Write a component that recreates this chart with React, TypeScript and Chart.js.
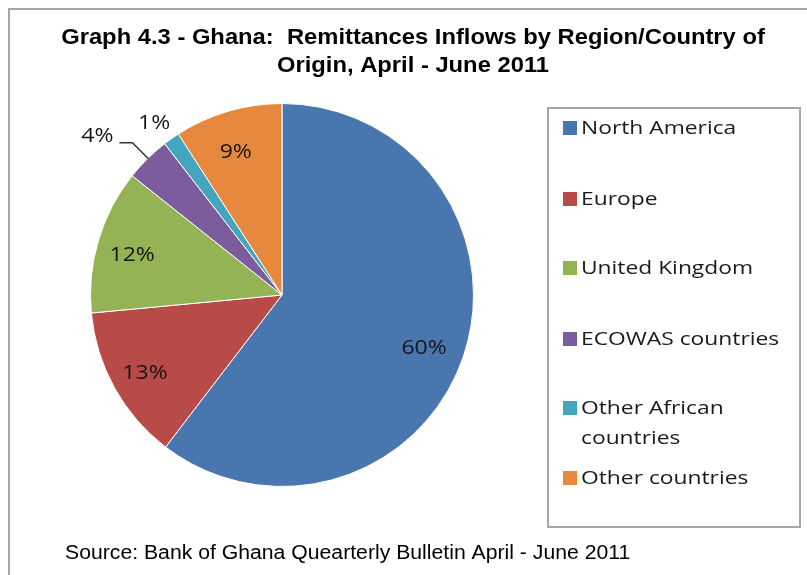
import React, { useEffect, useRef } from "react";
import { Chart, registerables } from "chart.js";

Chart.register(...registerables);

const titleLines = ["Graph 4.3 - Ghana:  Remittances Inflows by Region/Country of", "Origin, April - June 2011"];
const sourceText = "Source: Bank of Ghana Quearterly Bulletin April - June 2011";
const categories = ["North America", "Europe", "United Kingdom", "ECOWAS countries", "Other African countries", "Other countries"];
const legendLines = [["North America"], ["Europe"], ["United Kingdom"], ["ECOWAS countries"], ["Other African", "countries"], ["Other countries"]];
const shares = [60.4, 13.1, 12.2, 3.8, 1.4, 9.1];
const colors = ["#4A76B0", "#B84A48", "#93B354", "#7B5D9D", "#45A5BF", "#E6893F"];

const SX = 1.2; // horizontal stretch of the reference text

function drawText(ctx: CanvasRenderingContext2D, text: string, x: number, y: number, sx: number) {
  ctx.save();
  ctx.translate(x, y);
  ctx.scale(sx, 1);
  ctx.fillText(text, 0, 0);
  ctx.restore();
}

const decorPlugin = {
  id: "decor",
  beforeDraw(chart: any) {
    const ctx: CanvasRenderingContext2D = chart.ctx;
    ctx.save();
    ctx.fillStyle = "#ffffff";
    ctx.fillRect(0, 0, chart.width, chart.height);
    // outer frame
    ctx.strokeStyle = "#a6a6a6";
    ctx.lineWidth = 2;
    ctx.strokeRect(9, 9, 1000, 800);
    // title
    ctx.fillStyle = "#000000";
    ctx.font = "bold 22px 'Liberation Sans', Arial, sans-serif";
    ctx.textAlign = "center";
    ctx.textBaseline = "middle";
    drawText(ctx, titleLines[0], 413, 38, 1.08);
    drawText(ctx, titleLines[1], 413, 66, 1.08);
    // source
    ctx.font = "20px 'Liberation Sans', Arial, sans-serif";
    ctx.textAlign = "left";
    drawText(ctx, sourceText, 65, 553, 1.06);
    // legend box
    ctx.strokeStyle = "#a6a6a6";
    ctx.lineWidth = 2;
    ctx.strokeRect(548, 108, 252, 419);
    const rowY = [128, 199, 268, 339, 408, 478];
    const bg = chart.data.datasets[0].backgroundColor;
    ctx.font = "19px 'Open Sans', sans-serif";
    for (let i = 0; i < legendLines.length; i++) {
      ctx.fillStyle = bg[i];
      ctx.fillRect(563, rowY[i] - 7, 14, 14);
      ctx.fillStyle = "#1a1a1a";
      legendLines[i].forEach((ln, j) => drawText(ctx, ln, 581, rowY[i] + j * 30 + 1, SX));
    }
    ctx.restore();
  },
  afterDatasetsDraw(chart: any) {
    const ctx: CanvasRenderingContext2D = chart.ctx;
    const meta = chart.getDatasetMeta(0);
    const data = chart.data.datasets[0].data;
    ctx.save();
    ctx.font = "20px 'Open Sans', sans-serif";
    ctx.textAlign = "center";
    ctx.textBaseline = "middle";
    ctx.fillStyle = "#161616";
    meta.data.forEach((arc: any, i: number) => {
      const { x, y, startAngle, endAngle, outerRadius } = arc.getProps(["x", "y", "startAngle", "endAngle", "outerRadius"], true);
      const mid = (startAngle + endAngle) / 2;
      const label = Math.round(data[i]) + "%";
      if (data[i] >= 5) {
        const r = outerRadius * 0.8;
        drawText(ctx, label, x + Math.cos(mid) * r - 3, y + Math.sin(mid) * r + 4, 1.15);
      } else if (i === 3) {
        const ox = x + Math.cos(mid) * outerRadius;
        const oy = y + Math.sin(mid) * outerRadius;
        ctx.strokeStyle = "#333333";
        ctx.lineWidth = 1.5;
        ctx.beginPath();
        ctx.moveTo(ox + 1, oy);
        ctx.lineTo(ox - 15, oy - 16);
        ctx.lineTo(ox - 28, oy - 16);
        ctx.stroke();
        drawText(ctx, label, ox - 50, oy - 22, 1.15);
      } else {
        const r = outerRadius * 1.12;
        drawText(ctx, label, x + Math.cos(mid) * r - 4, y + Math.sin(mid) * r + 3, 1.15);
      }
    });
    ctx.restore();
  },
};

export default function App() {
  const ref = useRef<HTMLCanvasElement | null>(null);
  useEffect(() => {
    document.body.style.margin = "0";
    const chart = new Chart(ref.current as HTMLCanvasElement, {
      type: "pie",
      data: {
        labels: categories,
        datasets: [
          {
            data: shares,
            backgroundColor: colors,
            borderColor: "#ffffff",
            borderWidth: 1,
          },
        ],
      },
      options: {
        animation: false,
        responsive: false,
        devicePixelRatio: 1,
        layout: { padding: { left: 90, right: 333, top: 103, bottom: 88 } },
        plugins: {
          legend: { display: false },
          title: { display: false },
          tooltip: { enabled: false },
        },
      },
      plugins: [decorPlugin],
    });
    return () => chart.destroy();
  }, []);
  return <canvas ref={ref} width={807} height={575} style={{ display: "block" }} />;
}
